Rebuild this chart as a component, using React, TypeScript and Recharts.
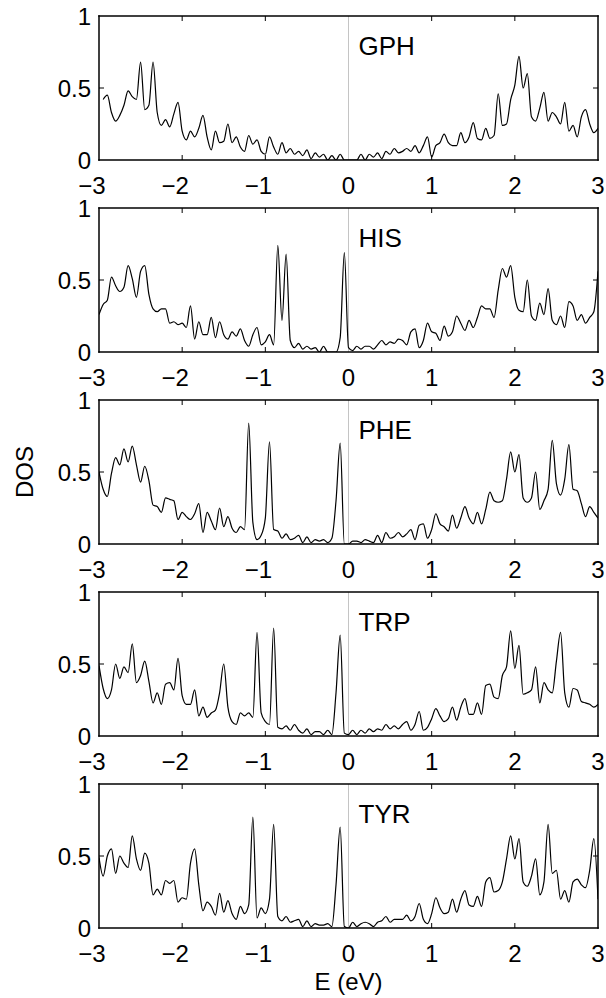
import React from 'react';
import { LineChart, Line, XAxis, YAxis, ReferenceLine } from 'recharts';

// Energy grid (eV)
const E_MIN = -3;
const E_STEP = 0.05;
const N_POINTS = 121;
const ENERGY: number[] = Array.from({ length: N_POINTS }, (_, i) => Math.round((E_MIN + i * E_STEP) * 100) / 100);

const X_TICKS = [-3, -2, -1, 0, 1, 2, 3];
const Y_TICKS = [0, 0.5, 1];
const PANEL_NAMES = ['GPH', 'HIS', 'PHE', 'TRP', 'TYR'];
const PANEL_KEYS = ['gph', 'his', 'phe', 'trp', 'tyr'];

const GPH: (number | null)[] = [
  null, 0.42, 0.45, 0.33, 0.27, 0.31, 0.38, 0.48, 0.44, 0.42,
  0.68, 0.35, 0.38, 0.68, 0.33, 0.24, 0.28, 0.23, 0.32, 0.40,
  0.20, 0.14, 0.20, 0.16, 0.22, 0.31, 0.16, 0.07, 0.20, 0.12,
  0.13, 0.25, 0.12, 0.16, 0.09, 0.06, 0.17, 0.11, 0.14, 0.06,
  0.04, 0.16, 0.09, 0.04, 0.12, 0.05, 0.08, 0.04, 0.06, 0.03,
  0.07, 0.01, 0.05, 0.02, 0.04, 0.00, 0.03, 0.00, 0.04, 0.00,
  0.00, 0.00, 0.00, 0.04, 0.00, 0.04, 0.02, 0.05, 0.01, 0.06,
  0.04, 0.08, 0.05, 0.06, 0.08, 0.06, 0.10, 0.05, 0.10, 0.16,
  0.02, 0.10, 0.12, 0.18, 0.12, 0.10, 0.10, 0.19, 0.12, 0.16,
  0.26, 0.15, 0.14, 0.22, 0.15, 0.17, 0.46, 0.24, 0.25, 0.42,
  0.52, 0.72, 0.50, 0.60, 0.30, 0.27, 0.36, 0.47, 0.27, 0.33,
  0.30, 0.25, 0.40, 0.20, 0.24, 0.16, 0.30, 0.35, 0.25, 0.19, 0.22,
];

const HIS: (number | null)[] = [
  0.26, 0.33, 0.36, 0.52, 0.46, 0.42, 0.45, 0.60, 0.51, 0.38,
  0.56, 0.60, 0.40, 0.30, 0.28, 0.30, 0.30, 0.20, 0.21, 0.19,
  0.20, 0.17, 0.32, 0.09, 0.21, 0.12, 0.12, 0.24, 0.10, 0.21,
  0.12, 0.09, 0.14, 0.11, 0.16, 0.08, 0.04, 0.12, 0.17, 0.05,
  0.07, 0.12, 0.05, 0.74, 0.22, 0.68, 0.08, 0.03, 0.06, 0.02,
  0.04, 0.02, 0.03, 0.00, 0.04, 0.00, 0.00, 0.00, 0.10, 0.69,
  0.03, 0.01, 0.04, 0.02, 0.04, 0.04, 0.02, 0.05, 0.08, 0.05,
  0.07, 0.06, 0.09, 0.08, 0.05, 0.14, 0.16, 0.03, 0.08, 0.20,
  0.14, 0.13, 0.08, 0.18, 0.11, 0.14, 0.25, 0.20, 0.15, 0.22,
  0.17, 0.24, 0.32, 0.30, 0.30, 0.24, 0.43, 0.58, 0.52, 0.60,
  0.38, 0.29, 0.28, 0.50, 0.25, 0.22, 0.34, 0.26, 0.44, 0.22,
  0.19, 0.25, 0.17, 0.35, 0.32, 0.22, 0.26, 0.20, 0.24, 0.28, 0.56,
];

const PHE: (number | null)[] = [
  0.50, 0.38, 0.33, 0.49, 0.60, 0.55, 0.66, 0.57, 0.68, 0.55,
  0.43, 0.54, 0.44, 0.27, 0.26, 0.22, 0.32, 0.31, 0.30, 0.17,
  0.22, 0.19, 0.17, 0.21, 0.28, 0.08, 0.22, 0.16, 0.10, 0.25,
  0.12, 0.19, 0.11, 0.08, 0.12, 0.10, 0.84, 0.15, 0.03, 0.06,
  0.18, 0.71, 0.10, 0.09, 0.04, 0.07, 0.03, 0.04, 0.06, 0.01,
  0.05, 0.01, 0.03, 0.02, 0.03, 0.01, 0.04, 0.30, 0.70, 0.00,
  0.00, 0.02, 0.02, 0.01, 0.03, 0.02, 0.01, 0.06, 0.01, 0.08,
  0.04, 0.05, 0.08, 0.05, 0.07, 0.10, 0.03, 0.13, 0.14, 0.04,
  0.10, 0.21, 0.14, 0.12, 0.09, 0.20, 0.11, 0.18, 0.26, 0.18,
  0.14, 0.22, 0.14, 0.24, 0.36, 0.30, 0.29, 0.30, 0.45, 0.64,
  0.50, 0.62, 0.32, 0.29, 0.32, 0.50, 0.24, 0.30, 0.38, 0.72,
  0.42, 0.34, 0.45, 0.69, 0.38, 0.37, 0.28, 0.19, 0.26, 0.22, 0.18,
];

const TRP: (number | null)[] = [
  0.49, 0.33, 0.26, 0.32, 0.50, 0.40, 0.48, 0.44, 0.64, 0.37,
  0.42, 0.52, 0.38, 0.23, 0.30, 0.22, 0.36, 0.37, 0.32, 0.54,
  0.28, 0.22, 0.22, 0.32, 0.14, 0.20, 0.13, 0.16, 0.18, 0.30,
  0.50, 0.20, 0.10, 0.08, 0.16, 0.14, 0.16, 0.13, 0.72, 0.16,
  0.10, 0.08, 0.75, 0.06, 0.05, 0.07, 0.04, 0.08, 0.04, 0.02,
  0.05, 0.01, 0.03, 0.03, 0.01, 0.04, 0.01, 0.30, 0.70, 0.02,
  0.01, 0.04, 0.01, 0.04, 0.02, 0.05, 0.03, 0.05, 0.04, 0.08,
  0.05, 0.07, 0.05, 0.08, 0.10, 0.04, 0.08, 0.17, 0.04, 0.06,
  0.12, 0.19, 0.14, 0.10, 0.12, 0.20, 0.11, 0.20, 0.26, 0.15,
  0.15, 0.23, 0.15, 0.35, 0.36, 0.27, 0.26, 0.42, 0.48, 0.73,
  0.47, 0.63, 0.29, 0.30, 0.32, 0.48, 0.23, 0.37, 0.32, 0.30,
  0.52, 0.72, 0.30, 0.20, 0.33, 0.32, 0.24, 0.23, 0.22, 0.20, 0.22,
];

const TYR: (number | null)[] = [
  0.49, 0.36, 0.50, 0.55, 0.38, 0.50, 0.45, 0.42, 0.64, 0.48,
  0.40, 0.52, 0.45, 0.23, 0.27, 0.23, 0.33, 0.31, 0.33, 0.18,
  0.21, 0.20, 0.45, 0.55, 0.30, 0.12, 0.18, 0.15, 0.09, 0.24,
  0.11, 0.19, 0.10, 0.06, 0.15, 0.10, 0.16, 0.77, 0.07, 0.14,
  0.10, 0.20, 0.72, 0.08, 0.05, 0.08, 0.04, 0.05, 0.06, 0.01,
  0.05, 0.01, 0.03, 0.02, 0.02, 0.03, 0.01, 0.30, 0.70, 0.01,
  0.00, 0.04, 0.01, 0.03, 0.04, 0.03, 0.01, 0.04, 0.05, 0.08,
  0.04, 0.06, 0.06, 0.06, 0.09, 0.05, 0.08, 0.17, 0.06, 0.03,
  0.10, 0.21, 0.14, 0.10, 0.11, 0.20, 0.11, 0.20, 0.26, 0.16,
  0.15, 0.22, 0.15, 0.32, 0.35, 0.25, 0.26, 0.32, 0.48, 0.64,
  0.48, 0.62, 0.32, 0.29, 0.36, 0.48, 0.23, 0.32, 0.72, 0.38,
  0.40, 0.20, 0.26, 0.18, 0.32, 0.34, 0.30, 0.28, 0.40, 0.62, 0.20,
];

const SERIES = [GPH, HIS, PHE, TRP, TYR];

const ROWS = ENERGY.map((e, i) => {
  const r: Record<string, number | null> = { e };
  PANEL_KEYS.forEach((k, j) => {
    r[k] = SERIES[j][i];
  });
  return r;
});

const FONT = '"Liberation Sans", Arial, Helvetica, sans-serif';
const FS = 24;
const TICK_LEN = 5;
const CHART_W = 606;
const CHART_H = 230;
const PANEL_STEP = 192;
const PLOT_LEFT = 99;
const RIGHT_W = 8;
const TOP_H = 16;
const BOTTOM_H = 70;
const FRAME = { stroke: '#000', strokeWidth: 1.5, strokeLinecap: 'square' as const };

const fmtX = (v: number) => (v < 0 ? '\u2212' + Math.abs(v) : String(v));

function BottomTick(props: any) {
  const { x, y, payload } = props;
  const v = payload.value;
  const inner = v !== 0 && v !== -3 && v !== 3;
  return (
    <g>
      {inner && <line x1={x} x2={x} y1={y} y2={y - TICK_LEN} stroke="#000" strokeWidth={1} />}
      <text x={x + FS * 0.278} y={y + 34} textAnchor="end" fontSize={FS} fontFamily={FONT} fill="#000">
        {fmtX(v)}
      </text>
    </g>
  );
}

function TopTick(props: any) {
  const { x, y, payload } = props;
  const v = payload.value;
  if (v === 0 || v === -3 || v === 3) return <g />;
  return (
    <g>
      <line x1={x} x2={x} y1={y} y2={y + TICK_LEN} stroke="#000" strokeWidth={1} />
    </g>
  );
}

function LeftTick(props: any) {
  const { x, y, payload } = props;
  const v = payload.value;
  return (
    <g>
      {v === 0.5 && <line x1={x} x2={x + TICK_LEN} y1={y} y2={y} stroke="#000" strokeWidth={1} />}
      <text x={x - 8} y={y} dy="0.36em" textAnchor="end" fontSize={FS} fontFamily={FONT} fill="#000">
        {String(v)}
      </text>
    </g>
  );
}

function RightTick(props: any) {
  const { x, y, payload } = props;
  if (payload.value !== 0.5) return <g />;
  return (
    <g>
      <line x1={x} x2={x - TICK_LEN} y1={y} y2={y} stroke="#000" strokeWidth={1} />
    </g>
  );
}

function NameLabel(props: any) {
  const { viewBox, name } = props;
  return (
    <text x={viewBox.x + 10} y={viewBox.y + 39} fontSize={26} fontFamily={FONT} fill="#000">
      {name}
    </text>
  );
}

function DosLabel(props: any) {
  const { viewBox } = props;
  const cx = 24;
  const cy = viewBox.y + viewBox.height / 2;
  return (
    <text
      x={cx}
      y={cy}
      dy="0.36em"
      transform={`rotate(-90 ${cx} ${cy})`}
      textAnchor="middle"
      fontSize={FS}
      fontFamily={FONT}
      fill="#000"
    >
      DOS
    </text>
  );
}

function ELabel(props: any) {
  const { viewBox } = props;
  return (
    <text x={viewBox.x + viewBox.width / 2} y={viewBox.y + 62} textAnchor="middle" fontSize={FS} fontFamily={FONT} fill="#000">
      E (eV)
    </text>
  );
}

function Panel({ idx }: { idx: number }) {
  const key = PANEL_KEYS[idx];
  const isLast = idx === PANEL_KEYS.length - 1;
  const isMid = idx === 2;
  return (
    <LineChart width={CHART_W} height={CHART_H} data={ROWS} margin={{ top: 0, right: 0, bottom: 0, left: 0 }}>
      <XAxis
        xAxisId="b"
        dataKey="e"
        type="number"
        domain={[-3, 3]}
        ticks={X_TICKS}
        interval={0}
        allowDataOverflow
        height={BOTTOM_H}
        tickSize={0}
        tickMargin={0}
        tickLine={false}
        axisLine={FRAME}
        tick={<BottomTick />}
        label={isLast ? <ELabel /> : undefined}
      />
      <XAxis
        xAxisId="t"
        orientation="top"
        dataKey="e"
        type="number"
        domain={[-3, 3]}
        ticks={X_TICKS}
        interval={0}
        allowDataOverflow
        height={TOP_H}
        tickSize={0}
        tickMargin={0}
        tickLine={false}
        axisLine={FRAME}
        tick={<TopTick />}
      />
      <YAxis
        yAxisId="l"
        type="number"
        domain={[0, 1]}
        ticks={Y_TICKS}
        interval={0}
        allowDataOverflow
        width={PLOT_LEFT}
        tickSize={0}
        tickMargin={0}
        tickLine={false}
        axisLine={FRAME}
        tick={<LeftTick />}
        label={isMid ? <DosLabel /> : undefined}
      />
      <YAxis
        yAxisId="r"
        orientation="right"
        type="number"
        domain={[0, 1]}
        ticks={Y_TICKS}
        interval={0}
        allowDataOverflow
        width={RIGHT_W}
        tickSize={0}
        tickMargin={0}
        tickLine={false}
        axisLine={FRAME}
        tick={<RightTick />}
      />
      <ReferenceLine
        x={0}
        xAxisId="b"
        yAxisId="l"
        stroke="#c4c4c4"
        strokeWidth={1}
        label={<NameLabel name={PANEL_NAMES[idx]} />}
      />
      <Line
        xAxisId="b"
        yAxisId="l"
        dataKey={key}
        type="monotone"
        stroke="#000"
        strokeWidth={1.2}
        dot={false}
        activeDot={false}
        isAnimationActive={false}
      />
    </LineChart>
  );
}

export default function App() {
  return (
    <div style={{ position: 'absolute', left: 0, top: 0, width: 606, height: 998, background: '#fff' }}>
      {PANEL_KEYS.map((k, i) => (
        <div key={k} style={{ position: 'absolute', left: 0, top: i * PANEL_STEP }}>
          <Panel idx={i} />
        </div>
      ))}
    </div>
  );
}
